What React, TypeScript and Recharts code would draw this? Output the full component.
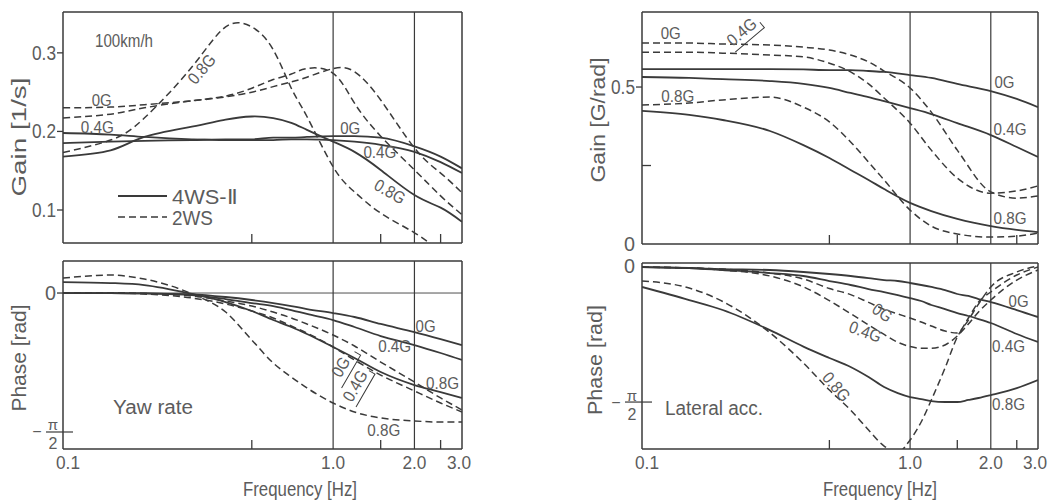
import React from "react";
import { LineChart, Line, XAxis, YAxis, ReferenceLine, ReferenceDot } from "recharts";

const FONT = '"Liberation Sans", Arial, sans-serif';
const INK = "#3a3a3a";
const TEXT = "#5c5c5c";

// frequency points [Hz]
const FREQ = [0.1, 0.15, 0.2, 0.3, 0.4, 0.5, 0.6, 0.7, 0.8, 1.0, 1.2, 1.5, 2.0, 2.5, 3.0];
const FREQ_LAT_PHASE = [0.1, 0.15, 0.2, 0.3, 0.4, 0.5, 0.6, 0.7, 0.8, 0.9, 1.0, 1.1, 1.2, 1.35, 1.5, 1.65, 1.8, 2.0, 2.5, 3.0];

// yaw rate gain [1/s]
const yawGain4ws0 = [0.185, 0.187, 0.188, 0.189, 0.19, 0.19, 0.192, 0.192, 0.193, 0.194, 0.194, 0.192, 0.181, 0.168, 0.153];
const yawGain4ws04 = [0.198, 0.196, 0.193, 0.19, 0.189, 0.189, 0.189, 0.19, 0.19, 0.189, 0.187, 0.183, 0.174, 0.161, 0.147];
const yawGain4ws08 = [0.168, 0.176, 0.193, 0.206, 0.215, 0.219, 0.217, 0.211, 0.202, 0.187, 0.174, 0.151, 0.119, 0.103, 0.085];
const yawGain2ws0 = [0.23, 0.231, 0.234, 0.239, 0.244, 0.25, 0.257, 0.263, 0.269, 0.28, 0.276, 0.24, 0.179, 0.147, 0.122];
const yawGain2ws04 = [0.217, 0.222, 0.23, 0.239, 0.245, 0.255, 0.266, 0.273, 0.28, 0.274, 0.236, 0.194, 0.151, 0.118, 0.094];
const yawGain2ws08 = [0.173, 0.189, 0.217, 0.282, 0.333, 0.333, 0.304, 0.255, 0.219, 0.155, 0.123, 0.096, 0.071, 0.049, 0.04];

// yaw rate phase [rad]
const yawPhase4ws0 = [0, 0, -0.005, -0.015, -0.045, -0.079, -0.113, -0.147, -0.181, -0.226, -0.271, -0.35, -0.441, -0.52, -0.588];
const yawPhase4ws04 = [0, 0, -0.005, -0.023, -0.068, -0.113, -0.147, -0.192, -0.237, -0.305, -0.384, -0.486, -0.588, -0.678, -0.757];
const yawPhase4ws08 = [0.124, 0.113, 0.09, -0.01, -0.102, -0.203, -0.305, -0.384, -0.463, -0.61, -0.734, -0.893, -1.04, -1.119, -1.186];
const yawPhase2ws0 = [0, 0, -0.005, -0.034, -0.09, -0.147, -0.215, -0.282, -0.35, -0.475, -0.599, -0.78, -1.006, -1.186, -1.322];
const yawPhase2ws04 = [0, 0, -0.011, -0.056, -0.124, -0.203, -0.282, -0.373, -0.452, -0.61, -0.757, -0.927, -1.107, -1.243, -1.345];
const yawPhase2ws08 = [0.169, 0.203, 0.158, -0.01, -0.215, -0.531, -0.791, -0.949, -1.073, -1.243, -1.345, -1.412, -1.446, -1.458, -1.458];

// lateral acceleration gain [G/rad]
const latGain4ws0 = [0.557, 0.557, 0.557, 0.557, 0.556, 0.554, 0.554, 0.551, 0.548, 0.538, 0.529, 0.51, 0.487, 0.462, 0.436];
const latGain4ws04 = [0.532, 0.529, 0.525, 0.519, 0.51, 0.497, 0.481, 0.468, 0.455, 0.433, 0.414, 0.385, 0.347, 0.309, 0.277];
const latGain4ws08 = [0.424, 0.411, 0.395, 0.36, 0.315, 0.274, 0.236, 0.204, 0.175, 0.131, 0.105, 0.08, 0.057, 0.045, 0.038];
const latGain2ws0 = [0.64, 0.64, 0.637, 0.634, 0.627, 0.618, 0.602, 0.58, 0.551, 0.497, 0.42, 0.299, 0.166, 0.146, 0.153];
const latGain2ws04 = [0.611, 0.611, 0.608, 0.602, 0.596, 0.576, 0.548, 0.51, 0.465, 0.385, 0.299, 0.21, 0.162, 0.169, 0.185];
const latGain2ws08 = [0.443, 0.449, 0.459, 0.468, 0.436, 0.389, 0.325, 0.261, 0.204, 0.108, 0.057, 0.032, 0.022, 0.025, 0.035];

// lateral acceleration phase [rad]
const latPhase4ws0 = [-0.012, -0.023, -0.035, -0.046, -0.069, -0.092, -0.115, -0.139, -0.162, -0.173, -0.196, -0.219, -0.242, -0.277, -0.323, -0.346, -0.381, -0.416, -0.508, -0.589];
const latPhase4ws04 = [-0.012, -0.023, -0.046, -0.081, -0.115, -0.173, -0.219, -0.266, -0.3, -0.335, -0.37, -0.404, -0.45, -0.497, -0.543, -0.577, -0.612, -0.658, -0.785, -0.878];
const latPhase4ws08 = [-0.242, -0.393, -0.508, -0.74, -0.93, -1.062, -1.166, -1.282, -1.397, -1.467, -1.513, -1.536, -1.559, -1.57, -1.57, -1.547, -1.524, -1.49, -1.409, -1.316];
const latPhase2ws0 = [-0.012, -0.023, -0.035, -0.081, -0.15, -0.26, -0.33, -0.42, -0.5, -0.554, -0.6, -0.647, -0.693, -0.751, -0.774, -0.6, -0.416, -0.3, -0.104, -0.012];
const latPhase2ws04 = [-0.012, -0.023, -0.046, -0.115, -0.24, -0.4, -0.55, -0.68, -0.79, -0.88, -0.93, -0.95, -0.95, -0.912, -0.808, -0.67, -0.531, -0.393, -0.162, -0.046];
const latPhase2ws08 = [-0.173, -0.254, -0.41, -0.77, -1.12, -1.432, -1.663, -1.894, -2.079, -2.15, -2.009, -1.801, -1.547, -1.178, -0.82, -0.624, -0.439, -0.242, -0.069, 0];

const X_TICKS = [0.1, 0.5, 1, 1.5, 2, 2.5, 3];
const X_LABELS: Record<string, string> = { "0.1": "0.1", "1": "1.0", "2": "2.0", "3": "3.0" };
const HALF_PI = -Math.PI / 2;

type Series = { key: string; values: number[]; dashed?: boolean; curve?: "monotone" | "natural" };
type Tag = { f: number; v: number; text: string; angle?: number; underline?: boolean };
type YTickDef = { v: number; label?: string; mark: "in" | "out" | "none"; pi?: boolean };

const Y_W = 60;
const PAD_T = 14;
const PAD_R = 16;
const X_H = 40;

function XTick(props: any) {
  const { x, y, payload, showLabels } = props;
  const v = payload.value;
  const minor = v === 0.5 || v === 1.5 || v === 2.5;
  const label = X_LABELS[String(v)];
  const dx = v === 0.1 ? 5 : v === 3 ? -3 : 0;
  return (
    <g>
      {minor && <line x1={x} x2={x} y1={y} y2={y - 9} stroke={INK} strokeWidth={1.3} />}
      {showLabels && label && (
        <text x={x + dx} y={y + 20} textAnchor="middle" fontSize={19} fill={TEXT} fontFamily={FONT}
          textLength={24} lengthAdjust="spacingAndGlyphs">
          {label}
        </text>
      )}
    </g>
  );
}

function YTick(props: any) {
  const { x, y, payload, defs } = props;
  const d: YTickDef | undefined = defs.find((t: YTickDef) => Math.abs(t.v - payload.value) < 1e-6);
  if (!d) return <g />;
  if (d.pi) {
    return (
      <g fill={TEXT} fontFamily={FONT}>
        <line x1={x - 17} x2={x + 10} y1={y} y2={y} stroke={INK} strokeWidth={1.2} />
        <text x={x - 26} y={y} textAnchor="middle" dominantBaseline="central" fontSize={16}>−</text>
        <text x={x - 10} y={y - 7} textAnchor="middle" dominantBaseline="central" fontSize={15}>π</text>
        <text x={x - 10} y={y + 12} textAnchor="middle" dominantBaseline="central" fontSize={16}>2</text>
      </g>
    );
  }
  return (
    <g>
      {d.mark === "out" && <line x1={x - 6} x2={x} y1={y} y2={y} stroke={INK} strokeWidth={1.3} />}
      {d.mark === "in" && <line x1={x} x2={x + 9} y1={y} y2={y} stroke={INK} strokeWidth={1.3} />}
      {d.label && (
        <text x={x - 7} y={y} textAnchor="end" dominantBaseline="central" fontSize={20} fill={TEXT} fontFamily={FONT}
          textLength={d.label.length > 1 ? 24 : 11} lengthAdjust="spacingAndGlyphs">
          {d.label}
        </text>
      )}
    </g>
  );
}

function tagShape(t: Tag) {
  return (p: any) => (
    <g transform={`translate(${p.cx},${p.cy}) rotate(${t.angle ?? 0})`}>
      <text textAnchor="middle" dominantBaseline="central" fontSize={17} fill={TEXT} fontFamily={FONT}
        textLength={t.text.length > 2 ? 33 : 20} lengthAdjust="spacingAndGlyphs">
        {t.text}
      </text>
      {t.underline && (
        <polyline points={`-18,11 20,11 20,4`} fill="none" stroke={INK} strokeWidth={1} />
      )}
    </g>
  );
}

function buildRows(freq: number[], series: Series[]) {
  return freq.map((f, i) => {
    const row: Record<string, number> = { f };
    series.forEach((s) => {
      row[s.key] = s.values[i];
    });
    return row;
  });
}

function Panel(props: {
  left: number;
  top: number;
  width: number;
  height: number;
  freq: number[];
  series: Series[];
  yDomain: [number, number];
  yTicks: YTickDef[];
  tags: Tag[];
  showXLabels?: boolean;
  zeroLine?: boolean;
}) {
  const { left, top, width, height, freq, series, yDomain, yTicks, tags, showXLabels, zeroLine } = props;
  const data = buildRows(freq, series);
  return (
    <div style={{ position: "absolute", left: left - Y_W, top: top - PAD_T }}>
      <LineChart
        width={Y_W + width + PAD_R}
        height={PAD_T + height + X_H}
        data={data}
        margin={{ top: PAD_T, right: PAD_R, bottom: 0, left: 0 }}
      >
        <XAxis
          dataKey="f"
          type="number"
          scale="log"
          domain={[0.1, 3]}
          allowDataOverflow
          ticks={X_TICKS}
          interval={0}
          height={X_H}
          tickLine={false}
          tickSize={0}
          tickMargin={0}
          axisLine={{ stroke: INK, strokeWidth: 1.5 }}
          tick={(p: any) => <XTick {...p} showLabels={showXLabels} />}
        />
        <YAxis
          type="number"
          domain={yDomain}
          allowDataOverflow
          width={Y_W}
          ticks={yTicks.map((t) => t.v)}
          interval={0}
          tickLine={false}
          tickSize={0}
          tickMargin={0}
          axisLine={{ stroke: INK, strokeWidth: 1.5 }}
          tick={(p: any) => <YTick {...p} defs={yTicks} />}
        />
        <ReferenceLine y={yDomain[1]} stroke={INK} strokeWidth={1.5} />
        <ReferenceLine x={3} stroke={INK} strokeWidth={1.5} />
        <ReferenceLine x={1} stroke={INK} strokeWidth={1.2} />
        <ReferenceLine x={2} stroke={INK} strokeWidth={1.2} />
        {zeroLine && <ReferenceLine y={0} stroke={INK} strokeWidth={0.9} />}
        {series.map((s) => (
          <Line
            key={s.key}
            dataKey={s.key}
            type={s.curve ?? "monotone"}
            stroke={INK}
            strokeWidth={s.dashed ? 1.5 : 1.8}
            strokeDasharray={s.dashed ? "7 4" : undefined}
            dot={false}
            activeDot={false}
            isAnimationActive={false}
          />
        ))}
        {tags.map((t, i) => (
          <ReferenceDot key={`tag-${i}`} x={t.f} y={t.v} r={0} ifOverflow="visible" shape={tagShape(t)} />
        ))}
      </LineChart>
    </div>
  );
}

const yawGainSeries: Series[] = [
  { key: "w0", values: yawGain4ws0 },
  { key: "w04", values: yawGain4ws04 },
  { key: "w08", values: yawGain4ws08, curve: "natural" },
  { key: "d0", values: yawGain2ws0, dashed: true, curve: "natural" },
  { key: "d04", values: yawGain2ws04, dashed: true, curve: "natural" },
  { key: "d08", values: yawGain2ws08, dashed: true, curve: "natural" },
];
const yawPhaseSeries: Series[] = [
  { key: "w0", values: yawPhase4ws0 },
  { key: "w04", values: yawPhase4ws04 },
  { key: "w08", values: yawPhase4ws08 },
  { key: "d0", values: yawPhase2ws0, dashed: true },
  { key: "d04", values: yawPhase2ws04, dashed: true },
  { key: "d08", values: yawPhase2ws08, dashed: true },
];
const latGainSeries: Series[] = [
  { key: "w0", values: latGain4ws0 },
  { key: "w04", values: latGain4ws04 },
  { key: "w08", values: latGain4ws08 },
  { key: "d0", values: latGain2ws0, dashed: true },
  { key: "d04", values: latGain2ws04, dashed: true },
  { key: "d08", values: latGain2ws08, dashed: true },
];
const latPhaseSeries: Series[] = [
  { key: "w0", values: latPhase4ws0 },
  { key: "w04", values: latPhase4ws04 },
  { key: "w08", values: latPhase4ws08 },
  { key: "d0", values: latPhase2ws0, dashed: true },
  { key: "d04", values: latPhase2ws04, dashed: true },
  { key: "d08", values: latPhase2ws08, dashed: true },
];

const yawGainTags: Tag[] = [
  { f: 0.139, v: 0.24, text: "0G" },
  { f: 0.134, v: 0.2045, text: "0.4G" },
  { f: 0.327, v: 0.279, text: "0.8G", angle: -50 },
  { f: 1.157, v: 0.204, text: "0G" },
  { f: 1.49, v: 0.173, text: "0.4G" },
  { f: 1.62, v: 0.123, text: "0.8G", angle: 30 },
];
const yawPhaseTags: Tag[] = [
  { f: 2.2, v: -0.373, text: "0G" },
  { f: 1.69, v: -0.599, text: "0.4G" },
  { f: 2.54, v: -1.017, text: "0.8G" },
  { f: 1.54, v: -1.559, text: "0.8G" },
  { f: 1.07, v: -0.836, text: "0G", angle: -60, underline: true },
  { f: 1.21, v: -1.05, text: "0.4G", angle: -60, underline: true },
];
const latGainTags: Tag[] = [
  { f: 0.128, v: 0.669, text: "0G" },
  { f: 0.236, v: 0.675, text: "0.4G", angle: -40, underline: true },
  { f: 0.136, v: 0.471, text: "0.8G" },
  { f: 2.25, v: 0.513, text: "0G" },
  { f: 2.36, v: 0.366, text: "0.4G" },
  { f: 2.36, v: 0.08, text: "0.8G" },
];
const latPhaseTags: Tag[] = [
  { f: 2.54, v: -0.404, text: "0G" },
  { f: 2.33, v: -0.924, text: "0.4G" },
  { f: 2.33, v: -1.594, text: "0.8G" },
  { f: 0.787, v: -0.543, text: "0G", angle: 35 },
  { f: 0.68, v: -0.762, text: "0.4G", angle: 20 },
  { f: 0.53, v: -1.397, text: "0.8G", angle: 50 },
];

function Overlay() {
  const t = { fill: TEXT, fontFamily: FONT, lengthAdjust: "spacingAndGlyphs" } as const;
  return (
    <svg width={1054} height={504} style={{ position: "absolute", left: 0, top: 0, pointerEvents: "none" }}>
      <text {...t} fontSize={21} textAnchor="middle" dominantBaseline="central" transform="translate(18,137) rotate(-90)" textLength={119}>Gain [1/s]</text>
      <text {...t} fontSize={21} textAnchor="middle" dominantBaseline="central" transform="translate(18,358) rotate(-90)" textLength={107}>Phase [rad]</text>
      <text {...t} fontSize={21} textAnchor="middle" dominantBaseline="central" transform="translate(597,120) rotate(-90)" textLength={125}>Gain [G/rad]</text>
      <text {...t} fontSize={21} textAnchor="middle" dominantBaseline="central" transform="translate(594,360) rotate(-90)" textLength={110}>Phase [rad]</text>
      <text {...t} fontSize={20} textAnchor="middle" x={300} y={496} textLength={114}>Frequency [Hz]</text>
      <text {...t} fontSize={20} textAnchor="middle" x={880} y={496} textLength={114}>Frequency [Hz]</text>
      <text {...t} fontSize={19} x={95} y={47} textLength={58}>100km/h</text>
      <text {...t} fontSize={20} x={113} y={414} textLength={80}>Yaw rate</text>
      <text {...t} fontSize={20} x={665} y={415} textLength={98}>Lateral acc.</text>
      <line x1={118} x2={167} y1={196} y2={196} stroke={INK} strokeWidth={1.8} />
      <text {...t} fontSize={21} x={172} y={196} dominantBaseline="central" textLength={65}>4WS-Ⅱ</text>
      <line x1={118} x2={167} y1={217} y2={217} stroke={INK} strokeWidth={1.5} strokeDasharray="7 4" />
      <text {...t} fontSize={21} x={172} y={217} dominantBaseline="central" textLength={41}>2WS</text>
    </svg>
  );
}

export default function App() {
  return (
    <div style={{ position: "absolute", left: 0, top: 0, width: 1054, height: 504, background: "#fff", overflow: "hidden" }}>
      <Panel
        left={63}
        top={12}
        width={399}
        height={231}
        freq={FREQ}
        series={yawGainSeries}
        yDomain={[0.058, 0.352]}
        yTicks={[
          { v: 0.1, label: "0.1", mark: "out" },
          { v: 0.2, label: "0.2", mark: "out" },
          { v: 0.3, label: "0.3", mark: "out" },
        ]}
        tags={yawGainTags}
      />
      <Panel
        left={63}
        top={261}
        width={399}
        height={188}
        freq={FREQ}
        series={yawPhaseSeries}
        yDomain={[-1.763, 0.362]}
        yTicks={[
          { v: HALF_PI, mark: "in", pi: true },
          { v: 0, label: "0", mark: "out" },
        ]}
        tags={yawPhaseTags}
        showXLabels
        zeroLine
      />
      <Panel
        left={642}
        top={12}
        width={396}
        height={232}
        freq={FREQ}
        series={latGainSeries}
        yDomain={[0, 0.739]}
        yTicks={[
          { v: 0, label: "0", mark: "none" },
          { v: 0.25, mark: "in" },
          { v: 0.5, label: "0.5", mark: "out" },
        ]}
        tags={latGainTags}
      />
      <Panel
        left={642}
        top={263}
        width={396}
        height={186}
        freq={FREQ_LAT_PHASE}
        series={latPhaseSeries}
        yDomain={[-2.113, 0.035]}
        yTicks={[
          { v: HALF_PI, mark: "in", pi: true },
          { v: 0, label: "0", mark: "none" },
        ]}
        tags={latPhaseTags}
        showXLabels
      />
      <Overlay />
    </div>
  );
}
